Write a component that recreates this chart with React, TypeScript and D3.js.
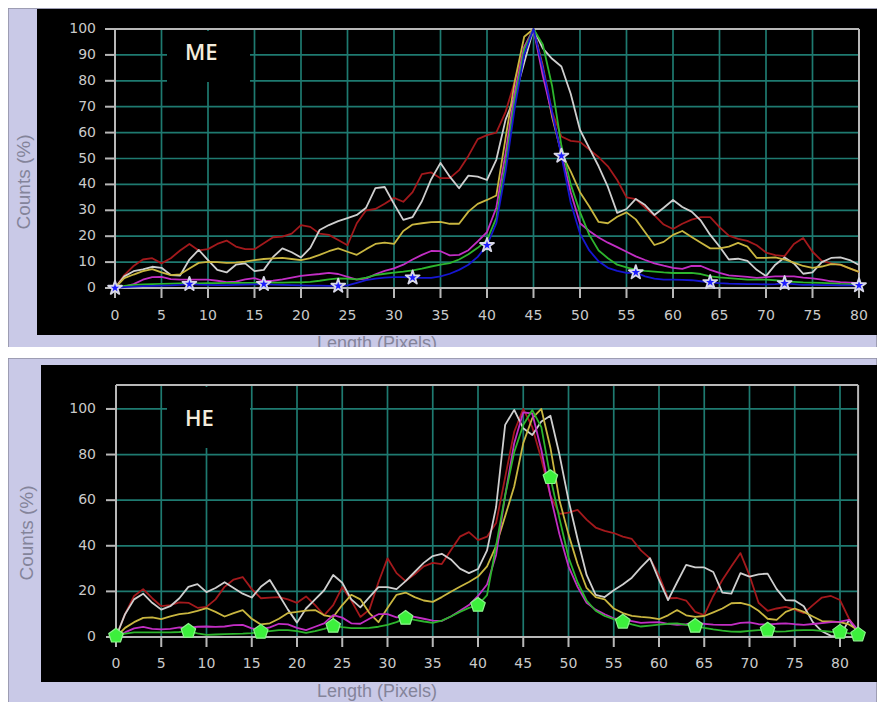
import React from "react";
import * as d3 from "d3";

const W = 877;
const H = 702;

// ---- ME panel: normalised line profiles, one value per pixel (0..80)
const meRed = [0, 5, 8.5, 11, 11.5, 9.5, 11.5, 14.5, 17, 14.5, 15, 17, 18.3, 16, 15, 15, 17.3, 19.6, 19.8, 21, 24.3, 23.6, 21, 20.5, 18.5, 16.5, 25, 30, 30.5, 32.5, 34.8, 33.3, 37, 44, 44.6, 42.4, 42.4, 45.5, 51, 57.5, 59, 60, 68, 80, 93, 100, 86, 68, 58.5, 56.8, 56.4, 53.5, 50.5, 47, 41.7, 35, 34.3, 31, 28, 24.5, 22.8, 24.8, 26.4, 27.4, 27.4, 23.5, 20.2, 19, 18.2, 16.5, 13.7, 12.7, 12.3, 17, 19.3, 14, 10.5, 9.5, 8.9, 7.6, 6.2];
const meWhite = [0, 4.5, 6.5, 7.2, 8.2, 7.8, 5, 4.8, 11, 14.7, 10.8, 7, 6, 9, 9.5, 6.5, 7, 12, 15.3, 13.8, 11.8, 15.5, 22.4, 24.3, 25.8, 27, 28.2, 31, 38.6, 39, 32.5, 26.3, 27.4, 33.5, 42, 48.3, 43, 38.5, 43.4, 43, 41.7, 49.5, 65, 74, 87, 100, 92.5, 88.5, 85.5, 75, 61, 54, 47, 39, 29, 30.5, 34.4, 32, 28.2, 31, 34, 31.3, 29.5, 26, 20.5, 16, 11, 11.3, 10.5, 7, 4.6, 9, 11.8, 9.5, 5.5, 6, 10, 11.6, 11.8, 10.8, 8.9];
const meYellow = [0, 3.8, 5.2, 6.5, 7.3, 6, 5, 5.3, 7.5, 9.7, 10.1, 10, 9.7, 9.8, 10.2, 10.8, 11.2, 11.4, 11.6, 11.2, 10.8, 11.5, 12.8, 14.2, 15.3, 14, 12.8, 15, 17, 17.5, 17, 22, 24.5, 25, 25.4, 25.5, 24.8, 24.8, 29.5, 32.5, 34, 35.7, 58, 80, 97, 100, 85, 66, 52, 45, 37, 31.5, 25.5, 25, 27.5, 29.2, 26.5, 21.5, 16.6, 17.8, 20.5, 22, 19.7, 17.5, 15.3, 15.3, 16, 17.4, 16, 11.6, 11.6, 11.8, 11, 9.8, 8.5, 7.8, 8.3, 9.2, 9, 7.6, 6.2];
const meMagenta = [0, 0.5, 1.5, 3.2, 4.2, 4.3, 3.4, 3.2, 3.2, 3.2, 3.2, 2.8, 2.3, 2.5, 3.3, 3.8, 2.6, 2.8, 3.3, 4, 4.7, 5.1, 5.4, 5.8, 5.4, 4.3, 3.2, 3.6, 5.3, 6.6, 7.6, 9, 11, 12.8, 14.3, 14.2, 12.6, 12.8, 14.6, 18, 21.6, 31, 52, 76, 93, 100, 82, 67, 52, 37, 25, 22, 19.5, 17.5, 15.8, 14, 12.2, 10.8, 9.5, 8.6, 7.8, 7.4, 8.5, 8.5, 7, 5.8, 4.9, 4.6, 4.3, 3.9, 4.2, 4.5, 4.5, 4.5, 4, 3.7, 3.2, 2.6, 2.3, 2.1, 1.9];
const meGreen = [0, 0.8, 1.2, 1.4, 1.5, 1.6, 1.7, 1.8, 1.8, 1.8, 1.9, 1.9, 2, 2, 2, 2, 2, 2.1, 2.1, 2.2, 2.2, 2.4, 2.8, 3.3, 3.7, 3.6, 3.3, 4, 5, 5.5, 5.9, 6.3, 6.8, 7.5, 8.3, 9, 9.6, 11, 13, 15.5, 18.5, 27, 48, 73, 92, 100, 94, 78, 55, 40, 29.3, 20.5, 14.5, 11.5, 9, 8, 7, 6.6, 6.3, 6, 5.8, 5.8, 5.8, 5.4, 4.5, 4.1, 3.8, 3.5, 3.2, 3.2, 3.2, 3, 2.6, 2.4, 2.2, 2.1, 2, 1.8, 1.6, 1.5, 1.3];
const meBlue = [0, 0.3, 0.5, 0.7, 0.8, 0.9, 1, 1.2, 1.5, 1.3, 1.2, 1.1, 1.1, 1.2, 1.3, 1.4, 1.5, 1.3, 1.2, 1.1, 1, 0.9, 0.9, 0.8, 0.8, 1, 2, 3, 3.6, 4, 4.2, 4.2, 4, 3.9, 3.9, 4.5, 5.5, 7, 9, 12, 16.5, 25, 45, 70, 90, 100, 85, 68, 51, 33, 21, 14.5, 10.3, 7.8, 6.6, 5.8, 6, 4.5, 3.6, 3.2, 3.2, 3.1, 3, 2.6, 2.2, 1.9, 1.7, 1.6, 1.5, 1.5, 1.4, 1.5, 1.8, 1.5, 1.2, 1.2, 1.1, 1.1, 1, 1, 1];

// ---- HE panel: one value per pixel (0..82)
const heRed = [0, 10, 18, 21, 17, 13.5, 14, 15.2, 15, 12.8, 13.2, 16.5, 22, 25.2, 26.3, 21, 17, 17.3, 17.5, 16.5, 15, 17.8, 14, 9.5, 14, 21.9, 16, 8.8, 12, 24, 34.5, 28, 24.5, 27.5, 31, 32.5, 32, 38, 44, 46, 42.5, 44, 50, 70, 90, 100, 92, 78, 62, 54, 54.5, 55.7, 51.5, 48, 46.5, 45.6, 44, 43, 38, 34.5, 27, 17, 17.1, 16, 11, 9.6, 18, 25, 31, 36.8, 27, 15, 11.5, 12.5, 13.2, 12, 10.5, 14, 17.3, 18, 16.2, 8, 2.5];
const heWhite = [0, 10, 16.5, 19, 15, 12, 13.5, 17, 22, 23.2, 19.7, 21.5, 24, 21.5, 19, 17.3, 22, 25, 18.5, 12, 6.3, 12.5, 16.5, 20.5, 27.2, 23.8, 16.5, 13, 17.5, 21.9, 21.9, 21, 24.5, 28.5, 32.5, 35.5, 36.5, 34, 30, 28, 29.8, 38, 57, 93, 99.6, 91.5, 88.6, 94.5, 97, 80, 60, 43, 27.2, 18.5, 17.5, 20.5, 23, 26, 30.5, 34.6, 25, 16.2, 24, 31.6, 30.5, 30.5, 28.5, 19.5, 19, 28, 26.5, 27.5, 27.8, 21, 16.2, 16, 13.5, 6.5, 2.5, 0.5, 0.3, 7.5, 2];
const heYellow = [0, 4, 6.5, 8.4, 8.6, 7.8, 9, 10, 10.5, 11.5, 12.7, 11, 9, 10.5, 11.8, 8, 5.5, 6, 8, 10.5, 11, 11.6, 11.8, 9.5, 8.8, 14, 18.5, 16.5, 10.5, 6.5, 12.7, 18.5, 19.5, 17.5, 16, 15.4, 17.5, 19.8, 22, 24.1, 26.5, 31, 40, 53, 66, 85, 96, 100, 83, 60, 45, 32, 21.5, 17.5, 16.5, 12.5, 10.5, 9.3, 8.8, 8.5, 7.8, 9.5, 11.8, 9.5, 8.8, 9.2, 10.8, 12.5, 14.8, 15, 14, 11.5, 8, 7.5, 11, 12.5, 11, 9, 7, 6.8, 6.5, 5.5, 3];
const heMagenta = [0, 2, 3.8, 4.4, 3.6, 3.3, 3.6, 4.2, 4, 4.5, 4.6, 4.4, 4.6, 5.2, 5.3, 3.8, 3.3, 4.2, 5.8, 5.5, 4, 3, 4.5, 6, 9.6, 8.5, 6, 5.8, 8, 10, 10, 8.6, 9.2, 8.8, 8, 7.2, 7, 9, 11.5, 14, 18, 23, 36, 62, 85, 98.5, 98, 82, 62, 45, 31, 22, 15, 12, 10, 8.2, 7.6, 7, 6.2, 6.4, 6.5, 5.8, 5.3, 5.6, 6, 5.8, 5.4, 5.3, 5.3, 6.2, 6.4, 5.6, 5.5, 5.8, 6, 5.6, 5.3, 5.7, 6.1, 6.5, 6.7, 7.5, 3];
const heGreen = [0.5, 1.5, 2, 2, 2, 2, 2, 2.2, 2.6, 1.6, 0.9, 1.1, 1.3, 1.4, 1.5, 1.7, 2.2, 2.6, 3, 3, 2.6, 1.8, 2.6, 3.6, 4.8, 4.3, 3.9, 3.9, 4, 4.5, 5.3, 6.5, 8.3, 7.5, 6.8, 6.2, 7.2, 9, 11, 12.8, 14, 18.4, 40, 62, 81, 93, 99.5, 92, 70, 52, 35, 24, 16, 11.5, 9.2, 7.8, 6.6, 5.5, 4.6, 5, 5.4, 5.8, 6, 5.3, 4.8, 4, 3.3, 2.8, 2.4, 2.3, 2.7, 3, 3.1, 2.4, 2.5, 2.9, 3, 3, 2.7, 2.3, 2.2, 1.6, 1];

// ---- axis ticks and marker positions
const meYTicks = [0, 10, 20, 30, 40, 50, 60, 70, 80, 90, 100];
const meYGrid = [10, 20, 30, 40, 50, 60, 70, 80, 90];
const meXTicks = [0, 5, 10, 15, 20, 25, 30, 35, 40, 45, 50, 55, 60, 65, 70, 75, 80];
const meXGrid = [5, 10, 15, 20, 25, 30, 35, 40, 45, 50, 55, 60, 65, 70, 75];
const meMarkers = [0, 8, 16, 24, 32, 40, 48, 56, 64, 72, 80];

const heYTicks = [0, 20, 40, 60, 80, 100];
const heYGrid = [20, 40, 60, 80, 100];
const heXTicks = [0, 5, 10, 15, 20, 25, 30, 35, 40, 45, 50, 55, 60, 65, 70, 75, 80];
const heXGrid = [5, 10, 15, 20, 25, 30, 35, 40, 45, 50, 55, 60, 65, 70, 75, 80];
const heMarkers = [0, 8, 16, 24, 32, 40, 48, 56, 64, 72, 80, 82];

const COLORS = {
  red: "#a3191c",
  white: "#cfcfcf",
  yellow: "#c9b640",
  magenta: "#c22ec4",
  green: "#2db52d",
  blue: "#1616d2",
};

const LAVENDER = "#c9c9e7";
const GRID = "#1e7a70";
const FRAME = "#b8b8b8";
const TICK_TEXT = "#cacaca";
const AXIS_TEXT = "#84849a";

type Series = { values: number[]; color: string };

type PanelProps = {
  top: number;
  bottom: number;
  blackLeft: number;
  blackTop: number;
  blackBottom: number;
  xDomain: [number, number];
  xRange: [number, number];
  yDomain: [number, number];
  yRange: [number, number];
  yTicks: number[];
  yGrid: number[];
  xTicks: number[];
  xGrid: number[];
  series: Series[];
  markerSeries: number[];
  markerIdx: number[];
  markerKind: "star" | "pentagon";
  label: string;
  labelBox: [number, number, number, number];
  labelPos: [number, number];
  xLabelPos: [number, number];
  yLabelPos: [number, number];
  xTickLabelY: number;
  clipId: string;
};

function pentagonPath(r: number): string {
  const pts: [number, number][] = [];
  for (let i = 0; i < 5; i++) {
    const a = -Math.PI / 2 + (i * 2 * Math.PI) / 5;
    pts.push([r * Math.cos(a), r * Math.sin(a)]);
  }
  return d3.line()(pts) + "Z";
}

function Panel(p: PanelProps) {
  const x = d3.scaleLinear().domain(p.xDomain).range(p.xRange);
  const y = d3.scaleLinear().domain(p.yDomain).range(p.yRange);
  const line = d3
    .line<number>()
    .x((_, i) => x(i))
    .y((v) => y(v))
    .curve(d3.curveLinear);

  const [x0, x1] = p.xRange;
  const yBase = p.yRange[0];
  const yTop = p.yRange[1];

  const starD = d3.symbol(d3.symbolStar, 60)() as string;
  const pentD = pentagonPath(7.6);

  return (
    <g>
      <defs>
        <clipPath id={p.clipId}>
          <rect x={8} y={p.top} width={W - 8} height={p.bottom - p.top} />
        </clipPath>
      </defs>
      <g clipPath={`url(#${p.clipId})`}>
        <rect x={8} y={p.top} width={W - 8} height={p.bottom - p.top + 4} fill={LAVENDER} stroke="#8f8fa3" strokeWidth={1.5} />
        <rect x={p.blackLeft} y={p.blackTop} width={W - p.blackLeft} height={p.blackBottom - p.blackTop} fill="#000" />
        <text
          x={p.xLabelPos[0]}
          y={p.xLabelPos[1]}
          fill={AXIS_TEXT}
          fontFamily="Liberation Sans, Arial, sans-serif"
          fontSize={18}
          textAnchor="middle"
          dominantBaseline="middle"
        >
          Length (Pixels)
        </text>
      </g>

      <text
        transform={`translate(${p.yLabelPos[0]},${p.yLabelPos[1]}) rotate(-90)`}
        fill={AXIS_TEXT}
        fontFamily="Liberation Sans, Arial, sans-serif"
        fontSize={19}
        textAnchor="middle"
        dominantBaseline="middle"
      >
        Counts (%)
      </text>

      {/* grid */}
      {p.yGrid.map((v) => (
        <line key={"gy" + v} x1={x0} x2={x1} y1={y(v)} y2={y(v)} stroke={GRID} strokeWidth={1.7} />
      ))}
      {p.xGrid.map((v) => (
        <line key={"gx" + v} x1={x(v)} x2={x(v)} y1={yTop} y2={yBase} stroke={GRID} strokeWidth={1.7} />
      ))}

      {/* frame and axes */}
      <line x1={x0} x2={x1} y1={yTop} y2={yTop} stroke={FRAME} strokeWidth={2} />
      <line x1={x1} x2={x1} y1={yTop} y2={yBase} stroke={FRAME} strokeWidth={2} />
      <line x1={x0} x2={x0} y1={yTop} y2={yBase + 10} stroke={FRAME} strokeWidth={2} />
      <line x1={x0} x2={x1} y1={yBase} y2={yBase} stroke={FRAME} strokeWidth={2} />

      {/* label box over the grid */}
      <rect x={p.labelBox[0]} y={p.labelBox[1]} width={p.labelBox[2]} height={p.labelBox[3]} fill="#000" />
      <text
        x={p.labelPos[0]}
        y={p.labelPos[1]}
        fill="#f3ecdc"
        fontFamily="Open Sans, Lato, sans-serif"
        fontWeight={600}
        fontSize={22}
        dominantBaseline="middle"
      >
        {p.label}
      </text>

      {/* ticks and tick labels */}
      {p.yTicks.map((v) => (
        <g key={"ty" + v}>
          <line x1={x0 - 10} x2={x0} y1={y(v)} y2={y(v)} stroke={FRAME} strokeWidth={2} />
          <text
            x={96}
            y={y(v)}
            fill={TICK_TEXT}
            fontFamily="DejaVu Sans, sans-serif"
            fontSize={14}
            textAnchor="end"
            dominantBaseline="middle"
          >
            {v}
          </text>
        </g>
      ))}
      {p.xTicks.map((v) => (
        <g key={"tx" + v}>
          <line x1={x(v)} x2={x(v)} y1={yBase} y2={yBase + 10} stroke={FRAME} strokeWidth={2} />
          <text
            x={x(v)}
            y={p.xTickLabelY}
            fill={TICK_TEXT}
            fontFamily="DejaVu Sans, sans-serif"
            fontSize={14}
            textAnchor="middle"
            dominantBaseline="middle"
          >
            {v}
          </text>
        </g>
      ))}

      {/* profiles */}
      {p.series.map((s, i) => (
        <path key={"s" + i} d={line(s.values) as string} fill="none" stroke={s.color} strokeWidth={1.8} strokeLinejoin="round" />
      ))}

      {/* markers */}
      {p.markerIdx.map((i) =>
        p.markerKind === "star" ? (
          <path
            key={"m" + i}
            d={starD}
            transform={`translate(${x(i)},${y(p.markerSeries[i])})`}
            fill="#1c1cff"
            stroke="#d8d8e8"
            strokeWidth={1.8}
            strokeLinejoin="round"
          />
        ) : (
          <path
            key={"m" + i}
            d={pentD}
            transform={`translate(${x(i)},${y(p.markerSeries[i])})`}
            fill="#3cf03c"
            stroke="#8cf58c"
            strokeWidth={1.2}
            strokeLinejoin="round"
          />
        )
      )}
    </g>
  );
}

export default function App() {
  return (
    <svg
      width={W}
      height={H}
      viewBox={`0 0 ${W} ${H}`}
      style={{ position: "absolute", left: 0, top: 0, background: "#fff" }}
    >
      <rect x={0} y={0} width={W} height={H} fill="#fff" />
      <Panel
        top={8}
        bottom={347}
        blackLeft={37}
        blackTop={9}
        blackBottom={335}
        xDomain={[0, 80]}
        xRange={[115, 859]}
        yDomain={[0, 100]}
        yRange={[288, 29]}
        yTicks={meYTicks}
        yGrid={meYGrid}
        xTicks={meXTicks}
        xGrid={meXGrid}
        series={[
          { values: meRed, color: COLORS.red },
          { values: meWhite, color: COLORS.white },
          { values: meYellow, color: COLORS.yellow },
          { values: meMagenta, color: COLORS.magenta },
          { values: meGreen, color: COLORS.green },
          { values: meBlue, color: COLORS.blue },
        ]}
        markerSeries={meBlue}
        markerIdx={meMarkers}
        markerKind="star"
        label="ME"
        labelBox={[167, 31, 83, 51]}
        labelPos={[185, 54]}
        xLabelPos={[377, 344]}
        yLabelPos={[25, 182]}
        xTickLabelY={316}
        clipId="clipME"
      />
      <Panel
        top={358}
        bottom={702}
        blackLeft={41}
        blackTop={365}
        blackBottom={682}
        xDomain={[0, 82]}
        xRange={[116, 858.1]}
        yDomain={[0, 110.5]}
        yRange={[637, 385]}
        yTicks={heYTicks}
        yGrid={heYGrid}
        xTicks={heXTicks}
        xGrid={heXGrid}
        series={[
          { values: heRed, color: COLORS.red },
          { values: heWhite, color: COLORS.white },
          { values: heYellow, color: COLORS.yellow },
          { values: heMagenta, color: COLORS.magenta },
          { values: heGreen, color: COLORS.green },
        ]}
        markerSeries={heGreen}
        markerIdx={heMarkers}
        markerKind="pentagon"
        label="HE"
        labelBox={[167, 387, 83, 61]}
        labelPos={[185, 420]}
        xLabelPos={[377, 692]}
        yLabelPos={[28, 533]}
        xTickLabelY={664}
        clipId="clipHE"
      />
    </svg>
  );
}
